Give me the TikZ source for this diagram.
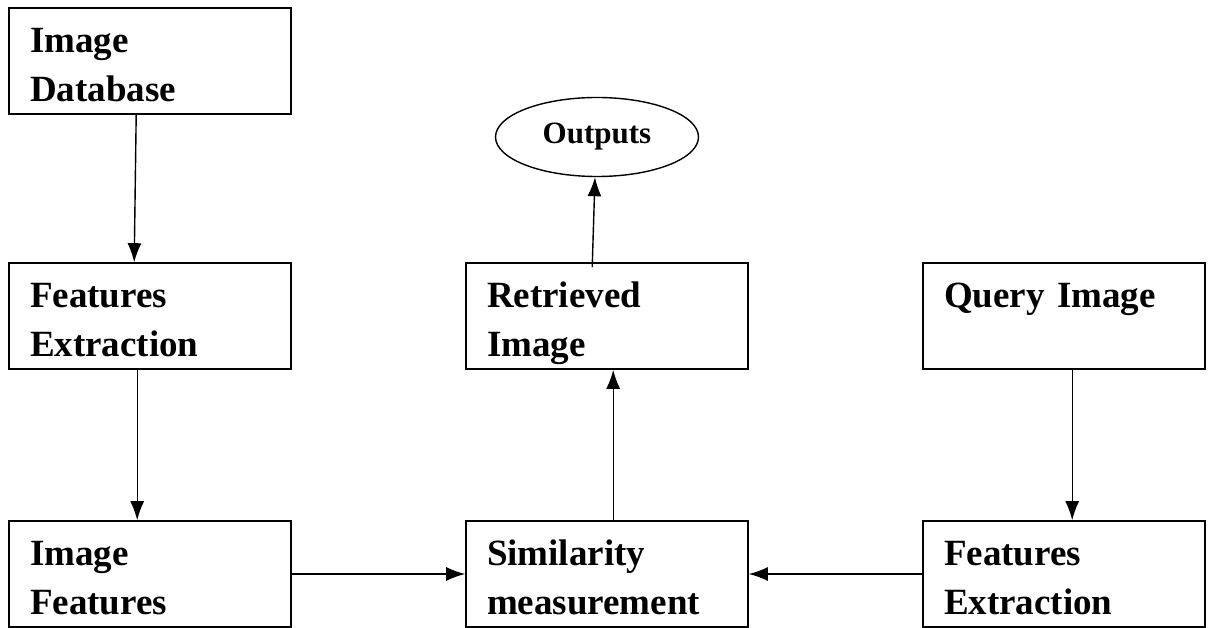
\documentclass[tikz,border=0pt]{standalone}
\usepackage{fontspec}
\setmainfont{Liberation Serif}
\usetikzlibrary{arrows.meta,shapes.geometric}

\tikzset{
	box/.style={draw, line width=1.6pt, minimum width=282pt, minimum height=106pt,
		inner xsep=21pt, text width=240pt, align=left,
		font=\bfseries\fontsize{37}{49}\selectfont,
		execute at begin node={\rule{0pt}{33pt}}},
	oval/.style={draw, ellipse, line width=1.4pt, minimum width=203pt, minimum height=79pt,
		inner sep=0pt, font=\bfseries\fontsize{31}{37}\selectfont}
}

\begin{document}
\begin{tikzpicture}[x=1pt, y=-1pt, line width=1.4pt, >={Latex[length=19pt,width=14pt]}]
	\useasboundingbox (0,0) rectangle (1208,628);
	\node[box] (db) at (150,61) {Image\\Database};
	\node[box] (fe1) at (150,316) {Features\\Extraction};
	\node[box] (imf) at (150,574) {Image\\Features};
	\node[oval] (out) at (597,137) {Outputs};
	\node[box] (ri) at (607,316) {Retrieved\\\smash{Image}};
	\node[box] (sm) at (607,574) {Similarity\\measurement};
	\node[box] (qi) at (1064,316) {Query Image\\\mbox{}};
	\node[box] (fe2) at (1064,574) {Features\\Extraction};
	\draw[->] ([xshift=128pt]db.south west) -- ([xshift=126pt]fe1.north west);
	\draw[->] ([xshift=129pt]fe1.south west) -- ([xshift=129pt]imf.north west);
	\draw[->] (imf.east) -- (sm.west);
	\draw[->] (fe2.west) -- (sm.east);
	\draw[->] ([xshift=148pt]sm.north west) -- ([xshift=148pt]ri.south west);
	\draw[->] ([xshift=127pt,yshift=-5pt]ri.north west) -- ([xshift=-2pt]out.south);
	\draw[->] ([xshift=150pt]qi.south west) -- ([xshift=150pt]fe2.north west);
\end{tikzpicture}
\end{document}
